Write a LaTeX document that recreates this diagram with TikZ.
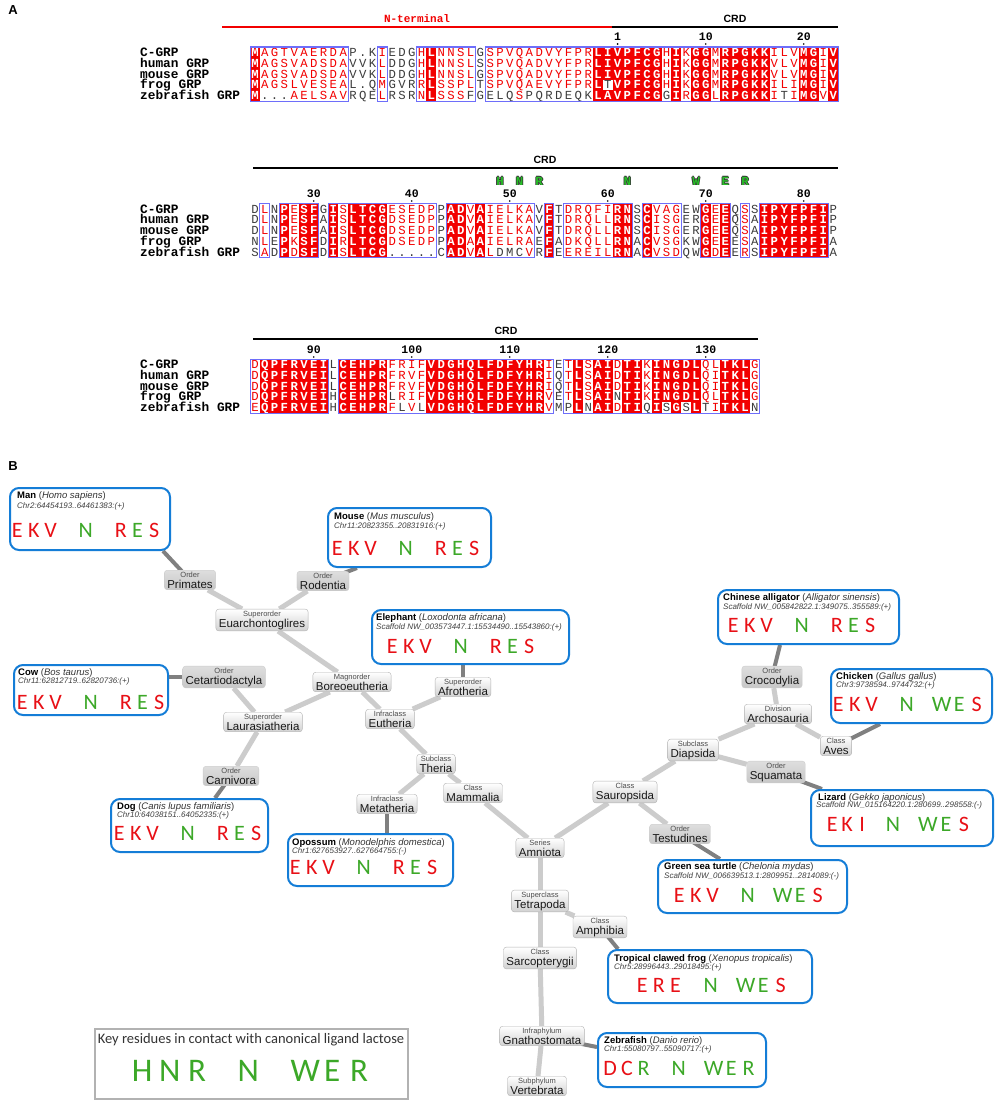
\documentclass[tikz,border=0pt]{standalone}
\usepackage{fontspec}
\setmainfont{Liberation Sans}
\newfontfamily\monof{Liberation Mono}
\newfontfamily\carl{Carlito}
\usetikzlibrary{backgrounds}

\definecolor{seqred}{RGB}{242,0,0}
\definecolor{seqblk}{RGB}{60,60,60}
\definecolor{seqblue}{RGB}{110,110,250}
\definecolor{spblue}{RGB}{20,125,215}
\definecolor{resred}{RGB}{232,16,22}
\definecolor{resgrn}{RGB}{60,168,40}
\definecolor{hlgrn}{RGB}{40,190,40}

\newcommand\seqfont{\monof\fontsize{12.3}{12.3}\selectfont}
\newcommand\seqbf{\monof\bfseries\fontsize{12.3}{12.3}\selectfont}

\newcount\colidx
\def\seqmode{k}
\def\cury{0}
\def\rowid{x}
\def\seqrow#1#2#3{\colidx=0 \def\cury{#1}\def\rowid{#2}\def\seqmode{k}\parseseq#3\relax}
\def\parseseq#1{\ifx#1\relax\else\seqtok#1\expandafter\parseseq\fi}
\def\seqtok#1{%
  \ifx#1!\def\seqmode{b}\else
  \ifx#1+\def\seqmode{r}\else
  \ifx#1=\def\seqmode{k}\else
    \advance\colidx by 1\relax
    \seqcell{#1}%
  \fi\fi\fi}
\def\seqcell#1{%
  \pgfmathsetmacro\cx{255+(\the\colidx-1)*9.8}%
  \if b\seqmode
    \fill[seqred] (\cx-4.95,\cury-5.45) rectangle (\cx+4.95,\cury+5.45);
    \node[seqch,text=white,font=\seqbf] (\rowid c\the\colidx) at (\cx,\cury+4) {#1};
  \else
    \if r\seqmode
      \node[seqch,text=seqred] (\rowid c\the\colidx) at (\cx,\cury+4) {#1};
    \else
      \node[seqch,text=seqblk] (\rowid c\the\colidx) at (\cx,\cury+4) {#1};
    \fi
  \fi}
\newcommand\bfr[3]{\pgfmathsetmacro\xa{255+(#2-1)*9.8-4.9}\pgfmathsetmacro\xb{255+(#3-1)*9.8+4.9}%
  \draw[seqblue,line width=1.1pt] (\xa,#1-5.45) rectangle (\xb,#1+48.65);}
\newcommand\cnm[4]{\pgfmathsetmacro\xa{255+(#3-1)*9.8}%
  \node[numlab] (#1) at (\xa,#2) {#4};
  \fill[black] (\xa,#2+7) circle (0.9pt);}
\newcommand\hlt[3]{\pgfmathsetmacro\xa{255+(#2-1)*9.8}%
  \node[hlab,text=black!80] (#1a) at (\xa-0.8,181) {#3};
  \node[hlab,text=black!80] (#1b) at (\xa+0.8,181) {#3};
  \node[hlab,text=black!80] (#1c) at (\xa,180.2) {#3};
  \node[hlab,text=black!80] (#1d) at (\xa,181.8) {#3};
  \node[hlab,text=hlgrn] (#1) at (\xa,181) {#3};}

\newcommand\rsl[3][16.7pt]{\makebox[#1]{\color{#2}#3}}
\newcommand\rgap[1][18.4pt]{\hspace*{#1}}
\newcommand\rnk[1]{{\fontsize{7.5}{8}\selectfont\color{black!70}#1}}
\newcommand\resRES{\rsl{resred}{E}\rsl{resred}{K}\rsl{resred}{V}\rgap\rsl{resgrn}{N}\rgap\rsl{resred}{R}\rsl{resgrn}{E}\rsl{resred}{S}}
\newcommand\resWES[3]{\rsl{resred}{#1}\rsl{resred}{#2}\rsl{resred}{#3}\rgap\rsl{resgrn}{N}\rgap[17.9pt]\rsl[17.5pt]{resgrn}{W}\rsl[17.5pt]{resgrn}{E}\rsl[17.5pt]{resred}{S}}

\begin{document}
\begin{tikzpicture}[x=1pt,y=-1pt,
  seqch/.style={anchor=base,inner sep=0pt,font=\seqfont,text height=7.5pt,text depth=0pt},
  namelab/.style={anchor=base west,inner sep=0pt,font=\monof\bfseries\fontsize{12.8}{12.8}\selectfont,text=black,text height=7.5pt,text depth=0pt},
  numlab/.style={inner sep=0pt,font=\monof\bfseries\fontsize{11.5}{11.5}\selectfont},
  hdr/.style={inner sep=0pt,font=\bfseries\fontsize{10.5}{10.5}\selectfont},
  hlab/.style={inner sep=0pt,font=\monof\bfseries\fontsize{12.5}{12.5}\selectfont},
  spbox/.style={draw=spblue,line width=2pt,rounded corners=9pt,fill=white,inner sep=0pt},
  sptitle/.style={anchor=base west,inner sep=0pt,font=\fontsize{9.5}{10}\selectfont},
  spcoord/.style={anchor=base west,inner sep=0pt,font=\itshape\fontsize{8}{9}\selectfont,text=black!75},
  spres/.style={anchor=base west,inner sep=0pt,font=\carl\fontsize{22}{22}\selectfont},
  taxnode/.style={draw=black!30,rounded corners=3pt,top color=white,bottom color=black!18,align=center,inner xsep=3pt,inner ysep=1.5pt,font=\fontsize{11.5}{12.5}\selectfont,text=black!90},
  ordnode/.style={taxnode,draw=black!20,top color=black!13,bottom color=black!22},
  lite/.style={draw=black!20,line width=5pt},
  dark/.style={draw=black!50,line width=4pt},
]
\useasboundingbox (0,0) rectangle (1000,1105);
\begin{pgfonlayer}{background}
\fill[white] (0,0) rectangle (1000,1105);
\end{pgfonlayer}

% ---------------- Panel A ----------------
\node[font=\bfseries\fontsize{13}{13}\selectfont,inner sep=0pt] (lblA) at (13,10) {A};

% block 1 header
\draw[seqred,line width=2pt] (222,27) -- (612,27);
\draw[black,line width=2pt] (612,27) -- (838,27);
\node[hdr,text=seqred,font=\monof\bfseries\fontsize{11}{11}\selectfont] (nterm) at (417,19) {N-terminal};
\node[hdr] (crdA) at (735,19) {CRD};
\cnm{nA1}{37}{38}{1}
\cnm{nA2}{37}{47}{10}
\cnm{nA3}{37}{57}{20}

\node[namelab] (nm11) at (140,56.5) {C-GRP};
\node[namelab] (nm12) at (140,67.3) {human GRP};
\node[namelab] (nm13) at (140,78.1) {mouse GRP};
\node[namelab] (nm14) at (140,88.9) {frog GRP};
\node[namelab] (nm15) at (140,99.7) {zebrafish GRP};
\seqrow{52.5}{a1}{!M+AGTVAERDA=P.K+I=EDG+H!L+NNSL=G+SPVQADVYFPR!LIVPFCG+H!I+K!GG+M!RPGKK+ILV!MG+I!V}
\seqrow{63.3}{a2}{!M+AGSVADSDA=VVK+L=DDG+H!L+NNSL=S+SPVQADVYFPR!LIVPFCG+H!I+K!GG+M!RPGKK+VLV!MG+I!V}
\seqrow{74.1}{a3}{!M+AGSVADSDA=VVK+L=DDG+H!L+NNSL=G+SPVQADVYFPR!LIVPFCG+H!I+K!GG+M!RPGKK+VLV!MG+I!V}
\seqrow{84.9}{a4}{!M+AGSLVESEA=L.Q+M=GVR+R!L+SSPL=T+SPVQAEVYFPR!L=T!VPFCG+H!I+K!GG+M!RPGKK+ILI!MG+I!V}
\seqrow{95.7}{a5}{!M=...+AELSAV=RQE+L=RSR+N!L+SSS=FGELQ+S=PQRDEQK!LAVPFCG=G!I+R!GG+L!RPGKK+I=T+I!MG+V!V}
\bfr{52.5}{1}{10}\bfr{52.5}{14}{14}\bfr{52.5}{18}{23}\bfr{52.5}{25}{60}

% block 2 header
\draw[black,line width=2pt] (253,168) -- (838,168);
\node[hdr] (crdB) at (545,160) {CRD};
\hlt{hH1}{26}{H}\hlt{hN1}{28}{N}\hlt{hR1}{30}{R}\hlt{hN2}{39}{N}\hlt{hW1}{46}{W}\hlt{hE1}{49}{E}\hlt{hR2}{51}{R}
\cnm{nB1}{194}{7}{30}
\cnm{nB2}{194}{17}{40}
\cnm{nB3}{194}{27}{50}
\cnm{nB4}{194}{37}{60}
\cnm{nB5}{194}{47}{70}
\cnm{nB6}{194}{57}{80}

\node[namelab] (nm21) at (140,213.0) {C-GRP};
\node[namelab] (nm22) at (140,223.8) {human GRP};
\node[namelab] (nm23) at (140,234.6) {mouse GRP};
\node[namelab] (nm24) at (140,245.4) {frog GRP};
\node[namelab] (nm25) at (140,256.2) {zebrafish GRP};
\seqrow{209}{b1}{=D+L=N!P+E!SF=G!I+S!LTCG+ESEDP=P!AD+V!A+IELKA=V!F=T+DRQFI!RN=S!C+VAG=EW!G+E!E=Q+S=S!IPYFPFI=P}
\seqrow{219.8}{b2}{=D+L=N!P+E!SF=A!I+S!LTCG+DSEDP=P!AD+V!A+IELKA=V!F=T+DRQLL!RN=S!C+ISG=ER!G+E!E=Q+S=A!IPYFPFI=P}
\seqrow{230.6}{b3}{=D+L=N!P+E!SF=A!I+S!LTCG+DSEDP=P!AD+V!A+IELKA=V!F=T+DRQLL!RN=S!C+ISG=ER!G+E!E=Q+S=A!IPYFPFI=P}
\seqrow{241.4}{b4}{=N+L=E!P+K!SF=D!I+R!LTCG+DSEDP=P!AD+A!A+IELRA=E!F=A+DKQLL!RN=A!C+VSG=KW!G+E!E=E+S=A!IPYFPFI=A}
\seqrow{252.2}{b5}{=S+A=D!P+D!SF=D!I+S!LTCG=.....C!AD+V!A+L=DMC+V=R!F=E+EREIL!RN=A!C+VSD=QW!G+D!E=E+R=S!IPYFPFI=A}
\bfr{209}{2}{2}\bfr{209}{4}{7}\bfr{209}{9}{19}\bfr{209}{21}{29}\bfr{209}{31}{31}
\bfr{209}{33}{39}\bfr{209}{41}{44}\bfr{209}{47}{49}\bfr{209}{51}{51}\bfr{209}{53}{59}

% block 3 header
\draw[black,line width=2pt] (253,339) -- (758,339);
\node[hdr] (crdC) at (506,331) {CRD};
\cnm{nC1}{350}{7}{90}
\cnm{nC2}{350}{17}{100}
\cnm{nC3}{350}{27}{110}
\cnm{nC4}{350}{37}{120}
\cnm{nC5}{350}{47}{130}

\node[namelab] (nm31) at (140,368.5) {C-GRP};
\node[namelab] (nm32) at (140,379.3) {human GRP};
\node[namelab] (nm33) at (140,390.1) {mouse GRP};
\node[namelab] (nm34) at (140,400.9) {frog GRP};
\node[namelab] (nm35) at (140,411.7) {zebrafish GRP};
\seqrow{364.5}{c1}{+D!QPFRVEI=L!CEHPR+FRIF!VDGHQLFDFYHR+I=E+T!L+S!AI+D!TI+K!INGDL+QL!TKL+G}
\seqrow{375.3}{c2}{+D!QPFRVEI=L!CEHPR+FRVF!VDGHQLFDFYHR+I=Q+T!L+S!AI+D!TI+K!INGDL+QI!TKL+G}
\seqrow{386.1}{c3}{+D!QPFRVEI=L!CEHPR+FRVF!VDGHQLFDFYHR+I=Q+T!L+S!AI+D!TI+K!INGDL+QI!TKL+G}
\seqrow{396.9}{c4}{+D!QPFRVEI=H!CEHPR=L+RIF!VDGHQLFDFYHR+V=E+T!L+S!AI=N!TI+K!INGDL+QL!TKL+G}
\seqrow{407.7}{c5}{+E!QPFRVEI=H!CEHPR+F=L+V=L!VDGHQLFDFYHR+V=MP!L=N!AI+D!TI=Q!I=S!G=S!L=T+I!TKL=N}
\bfr{364.5}{1}{8}\bfr{364.5}{10}{31}\bfr{364.5}{33}{52}

% ---------------- Panel B ----------------
\node[font=\bfseries\fontsize{13}{13}\selectfont,inner sep=0pt] (lblB) at (13,466) {B};

% taxon nodes
\node[ordnode] (primates) at (190,580) {\rnk{Order}\\[-1.5pt]Primates};
\node[ordnode] (rodentia) at (323,581) {\rnk{Order}\\[-1.5pt]Rodentia};
\node[taxnode] (euarch) at (262,620) {\rnk{Superorder}\\[-1.5pt]Euarchontoglires};
\node[ordnode] (cetart) at (224,677) {\rnk{Order}\\[-1.5pt]Cetartiodactyla};
\node[taxnode] (boreo) at (352,682) {\rnk{Magnorder}\\[-1.5pt]Boreoeutheria};
\node[taxnode] (laura) at (263,722) {\rnk{Superorder}\\[-1.5pt]Laurasiatheria};
\node[taxnode] (afro) at (463,687) {\rnk{Superorder}\\[-1.5pt]Afrotheria};
\node[taxnode] (eutheria) at (390,719) {\rnk{Infraclass}\\[-1.5pt]Eutheria};
\node[ordnode] (carnivora) at (231,776) {\rnk{Order}\\[-1.5pt]Carnivora};
\node[taxnode] (theria) at (436,764) {\rnk{Subclass}\\[-1.5pt]Theria};
\node[taxnode] (mammalia) at (473,793) {\rnk{Class}\\[-1.5pt]Mammalia};
\node[taxnode] (metatheria) at (387,804) {\rnk{Infraclass}\\[-1.5pt]Metatheria};
\node[taxnode] (amniota) at (540,848) {\rnk{Series}\\[-1.5pt]Amniota};
\node[taxnode] (tetrapoda) at (540,901) {\rnk{Superclass}\\[-1.5pt]Tetrapoda};
\node[taxnode] (amphibia) at (600,927) {\rnk{Class}\\[-1.5pt]Amphibia};
\node[taxnode] (sarco) at (540,958) {\rnk{Class}\\[-1.5pt]Sarcopterygii};
\node[taxnode] (gnatho) at (542,1036) {\rnk{Infraphylum}\\[-1.5pt]Gnathostomata};
\node[taxnode] (vertebrata) at (537,1086) {\rnk{Subphylum}\\[-1.5pt]Vertebrata};
\node[ordnode] (crocodylia) at (772,677) {\rnk{Order}\\[-1.5pt]Crocodylia};
\node[taxnode] (archo) at (778,714) {\rnk{Division}\\[-1.5pt]Archosauria};
\node[taxnode] (aves) at (836,746) {\rnk{Class}\\[-1.5pt]Aves};
\node[taxnode] (diapsida) at (693,750) {\rnk{Subclass}\\[-1.5pt]Diapsida};
\node[ordnode] (squamata) at (776,772) {\rnk{Order}\\[-1.5pt]Squamata};
\node[taxnode] (sauropsida) at (625,792) {\rnk{Class}\\[-1.5pt]Sauropsida};
\node[ordnode] (testudines) at (680,834) {\rnk{Order}\\[-1.5pt]Testudines};

% species boxes
\node[spbox,minimum width=160pt,minimum height=62pt,anchor=north west] (man) at (9,487) {};
\node[sptitle] (man-t) at (17,498.4) {\textbf{Man} {\color{black!80}(\textit{Homo sapiens})}};
\node[spcoord] (man-c) at (17,508.9) {Chr2:64454193..64461383:(+)};
\node[spres] (man-r) at (8.65,537.1) {\resRES};

\node[spbox,minimum width=163pt,minimum height=59pt,anchor=north west] (mouse) at (327,507) {};
\node[sptitle] (mouse-t) at (334,519.4) {\textbf{Mouse} {\color{black!80}(\textit{Mus musculus})}};
\node[spcoord] (mouse-c) at (334,528.9) {Chr11:20823355..20831916:(+)};
\node[spres] (mouse-r) at (328.65,555.1) {\resRES};

\node[spbox,minimum width=197pt,minimum height=54pt,anchor=north west] (elephant) at (371,609) {};
\node[sptitle] (elephant-t) at (376,620.4) {\textbf{Elephant} {\color{black!80}(\textit{Loxodonta africana})}};
\node[spcoord] (elephant-c) at (376,629.9) {Scaffold NW\_003573447.1:15534490..15543860:(+)};
\node[spres] (elephant-r) at (383.65,653.1) {\resRES};

\node[spbox,minimum width=154pt,minimum height=50pt,anchor=north west] (cow) at (13,664) {};
\node[sptitle] (cow-t) at (18,675.4) {\textbf{Cow} {\color{black!80}(\textit{Bos taurus})}};
\node[spcoord] (cow-c) at (18,683.9) {Chr11:62812719..62820736:(+)};
\node[spres] (cow-r) at (13.65,709.1) {\resRES};

\node[spbox,minimum width=157pt,minimum height=53pt,anchor=north west] (dog) at (110,798) {};
\node[sptitle] (dog-t) at (117,809.4) {\textbf{Dog} {\color{black!80}(\textit{Canis lupus familiaris})}};
\node[spcoord] (dog-c) at (117,817.9) {Chr10:64038151..64052335:(+)};
\node[spres] (dog-r) at (110.65,840.1) {\resRES};

\node[spbox,minimum width=165pt,minimum height=52pt,anchor=north west] (opossum) at (287,833) {};
\node[sptitle] (opossum-t) at (292,845.4) {\textbf{Opossum} {\color{black!80}(\textit{Monodelphis domestica})}};
\node[spcoord] (opossum-c) at (292,853.9) {Chr1:627653927..627664755:(-)};
\node[spres] (opossum-r) at (286.65,874.1) {\resRES};

\node[spbox,minimum width=181pt,minimum height=54pt,anchor=north west] (alligator) at (717,589) {};
\node[sptitle] (alligator-t) at (723,600.4) {\textbf{Chinese alligator} {\color{black!80}(\textit{Alligator sinensis})}};
\node[spcoord] (alligator-c) at (723,609.9) {Scaffold NW\_005842822.1:349075..355589:(+)};
\node[spres] (alligator-r) at (724.65,632.1) {\resRES};

\node[spbox,minimum width=161pt,minimum height=54pt,anchor=north west] (chicken) at (830,668) {};
\node[sptitle] (chicken-t) at (836,679.4) {\textbf{Chicken} {\color{black!80}(\textit{Gallus gallus})}};
\node[spcoord] (chicken-c) at (836,687.9) {Chr3:9738594..9744732:(+)};
\node[spres] (chicken-r) at (829.65,711.1) {\resWES{E}{K}{V}};

\node[spbox,minimum width=182pt,minimum height=56pt,anchor=north west] (lizard) at (810,789) {};
\node[sptitle] (lizard-t) at (818,800.4) {\textbf{Lizard} {\color{black!80}(\textit{Gekko japonicus})}};
\node[spcoord] (lizard-c) at (816,807.9) {Scaffold NW\_015164220.1:280699..298558:(-)};
\node[spres] (lizard-r) at (824.5,831.1) {\rsl[15pt]{resred}{E}\rsl[15pt]{resred}{K}\rsl[15pt]{resred}{I}\rgap[15pt]\rsl{resgrn}{N}\rgap[17.5pt]\rsl[18pt]{resgrn}{W}\rsl[18pt]{resgrn}{E}\rsl[18pt]{resred}{S}};

\node[spbox,minimum width=189pt,minimum height=53pt,anchor=north west] (turtle) at (657,859) {};
\node[sptitle] (turtle-t) at (664,869.4) {\textbf{Green sea turtle} {\color{black!80}(\textit{Chelonia mydas})}};
\node[spcoord] (turtle-c) at (664,878.9) {Scaffold NW\_006639513.1:2809951..2814089:(-)};
\node[spres] (turtle-r) at (670.65,902.1) {\resWES{E}{K}{V}};

\node[spbox,minimum width=204pt,minimum height=53pt,anchor=north west] (frog) at (607,949) {};
\node[sptitle] (frog-t) at (614,961.4) {\textbf{Tropical clawed frog} {\color{black!80}(\textit{Xenopus tropicalis})}};
\node[spcoord] (frog-c) at (614,969.9) {Chr5:28996443..29018495:(+)};
\node[spres] (frog-r) at (633.65,992.1) {\resWES{E}{R}{E}};

\node[spbox,minimum width=168pt,minimum height=54pt,anchor=north west] (zebrafish) at (597,1032) {};
\node[sptitle] (zebrafish-t) at (604,1043.4) {\textbf{Zebrafish} {\color{black!80}(\textit{Danio rerio})}};
\node[spcoord] (zebrafish-c) at (604,1051.9) {Chr1:55080797..55090717:(+)};
\node[spres] (zebrafish-r) at (601.65,1075.1) {\rsl{resred}{D}\rsl{resred}{C}\rsl{resgrn}{R}\rgap\rsl{resgrn}{N}\rgap[17.9pt]\rsl[17.5pt]{resgrn}{W}\rsl[17.5pt]{resgrn}{E}\rsl[17.5pt]{resgrn}{R}};

% key box
\node[draw=black!30,line width=1.5pt,minimum width=313pt,minimum height=70pt,anchor=north west,inner sep=0pt] (keybox) at (94,1028) {};
\node[font=\carl\fontsize{14.5}{15}\selectfont,text=black!80,inner sep=0pt] (keytxt) at (251,1040) {Key residues in contact with canonical ligand lactose};
\node[anchor=base west,inner sep=0pt,font=\carl\fontsize{33}{34}\selectfont] (keyres) at (128.25,1081.6) {\rsl[27.5pt]{resgrn}{H}\rsl[27.5pt]{resgrn}{N}\rsl[27.5pt]{resgrn}{R}\rgap[23.5pt]\rsl[27.5pt]{resgrn}{N}\rgap[29.75pt]\rsl[27pt]{resgrn}{W}\rsl[27pt]{resgrn}{E}\rsl[27pt]{resgrn}{R}};

% connectors
\begin{pgfonlayer}{background}
\draw[lite] (primates) -- (euarch);
\draw[lite] (rodentia) -- (euarch);
\draw[lite] (euarch) -- (boreo);
\draw[lite] (cetart) -- (laura);
\draw[lite] (carnivora) -- (laura);
\draw[lite] (laura) -- (boreo);
\draw[lite] (boreo) -- (eutheria);
\draw[lite] (afro) -- (eutheria);
\draw[lite] (eutheria) -- (theria);
\draw[lite] (theria) -- (metatheria);
\draw[lite] (theria) -- (mammalia);
\draw[lite] (mammalia) -- (amniota);
\draw[lite] (amniota) -- (sauropsida);
\draw[lite] (sauropsida) -- (diapsida);
\draw[lite] (sauropsida) -- (testudines);
\draw[lite] (diapsida) -- (archo);
\draw[lite] (diapsida) -- (squamata);
\draw[lite] (archo) -- (crocodylia);
\draw[lite] (archo) -- (aves);
\draw[lite] (amniota) -- (tetrapoda);
\draw[lite] (tetrapoda) -- (amphibia);
\draw[lite] (tetrapoda) -- (sarco);
\draw[lite] (sarco) -- (gnatho);
\draw[lite] (gnatho) -- (vertebrata);
\draw[dark] (primates.center) -- ([xshift=-8pt]man.south east);
\draw[dark] (rodentia.center) -- ([xshift=30pt]mouse.south west);
\draw[dark] (cetart.center) -- (cetart.center -| cow.east);
\draw[dark] (carnivora.center) -- ([xshift=105pt]dog.north west);
\draw[dark] (afro.center) -- (afro.center |- elephant.south);
\draw[dark] (metatheria.center) -- (metatheria.center |- opossum.north);
\draw[dark] (crocodylia.center) -- ([xshift=63pt]alligator.south west);
\draw[dark] (aves.center) -- ([xshift=50pt]chicken.south west);
\draw[dark] (squamata.center) -- ([xshift=12pt]lizard.north west);
\draw[dark] (testudines.center) -- ([xshift=63pt]turtle.north west);
\draw[dark] (amphibia.center) -- ([xshift=11pt]frog.north west);
\draw[dark] (gnatho.center) -- ([yshift=-15pt]zebrafish.north west);
\end{pgfonlayer}
\end{tikzpicture}
\end{document}
